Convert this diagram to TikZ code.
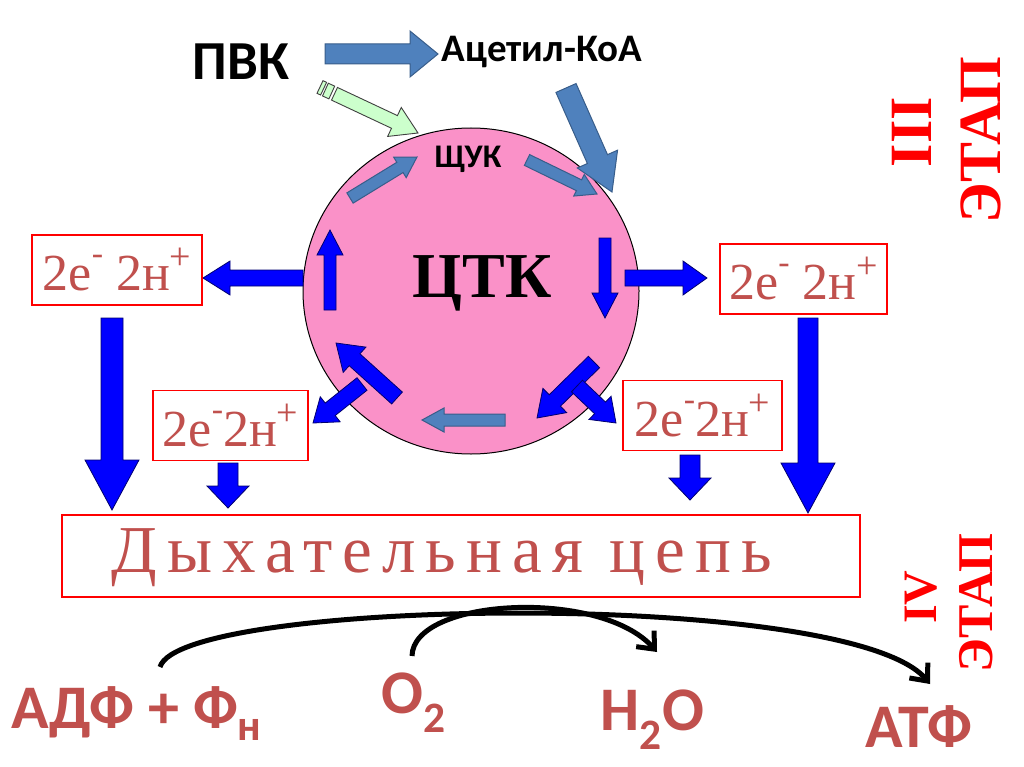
\documentclass[tikz,border=0pt]{standalone}
\usepackage{fontspec}
\setmainfont{Liberation Serif}
\newfontfamily\calibri{Carlito}
\usepackage{tikz}
\usetikzlibrary{calc,shapes.geometric,arrows.meta,positioning}

\definecolor{krebspink}{RGB}{250,145,200}
\definecolor{steel}{RGB}{79,129,189}
\definecolor{steeldark}{RGB}{56,93,138}
\definecolor{mint}{RGB}{204,255,204}
\definecolor{brick}{RGB}{192,80,77}
\definecolor{navy}{RGB}{0,0,110}

% block arrow: [style]{from}{to}{body half width}{head half width}{head length}
\newcommand{\blockarrow}[6][]{%
  \coordinate (ba-h) at ($(#3)!#6!(#2)$);
  \filldraw[#1] ($(#2)!#4!90:(#3)$) -- ($(ba-h)!#4!-90:(#2)$) -- ($(ba-h)!#5!-90:(#2)$)
    -- (#3) -- ($(ba-h)!#5!90:(#2)$) -- ($(ba-h)!#4!90:(#2)$) -- ($(#2)!#4!-90:(#3)$) -- cycle;
}
% plain bar: [style]{from}{to}{half width}
\newcommand{\blockbar}[4][]{%
  \filldraw[#1] ($(#2)!#4!90:(#3)$) -- ($(#3)!#4!-90:(#2)$) -- ($(#3)!#4!90:(#2)$) -- ($(#2)!#4!-90:(#3)$) -- cycle;
}
% electron pair text
\newcommand{\epair}[1]{2e\raisebox{26pt}{\fontsize{34}{34}\selectfont -}#12н\raisebox{21pt}{\fontsize{38}{38}\selectfont +}}

\begin{document}
\begin{tikzpicture}[x=1pt, y=-1pt,
    ebox/.style={draw=red, line width=1.5pt, fill=white, minimum height=70, inner sep=0pt, text=brick, font=\fontsize{52}{52}\selectfont},
    bluearr/.style={fill=blue, draw=navy, line width=0.8pt},
    steelarr/.style={fill=steel, draw=steeldark, line width=1pt},
    mintarr/.style={fill=mint, draw=black!75, line width=0.9pt},
    sansbold/.style={font=\calibri\bfseries\fontsize{#1}{#1}\selectfont},
    product/.style={anchor=base west, text=brick, font=\calibri\bfseries\fontsize{62}{62}\selectfont},
    stage/.style={rotate=90, text=red, font=\bfseries\fontsize{#1}{#1}\selectfont},
    curve/.style={line width=5pt, -{Straight Barb[length=14pt,width=24pt]}}]

    \useasboundingbox (0,0) rectangle (1024,767);

    % Cycle
    \node[ellipse, draw, line width=1pt, fill=krebspink, minimum width=336, minimum height=326, inner sep=0pt] (krebs) at (471,291) {};
    \node[anchor=base, font=\bfseries\fontsize{64}{64}\selectfont] (ctk) at (482,297) {ЦТК};
    \node[anchor=base, sansbold=33] (oaa) at (468,168) {ЩУК};

    % Inputs
    \node[anchor=base, sansbold=55] (pvk) at (241,80) {ПВК};
    \node[anchor=base, sansbold=39] (acoa) at (542,62) {Ацетил-КоА};

    \blockarrow[steelarr]{325,54}{438,54}{10pt}{23pt}{28pt}
    \blockbar[mintarr]{320,87}{323.6,88.7}{7pt}
    \blockbar[mintarr]{325.4,89.6}{331.8,92.5}{7pt}
    \blockarrow[mintarr]{334.5,93.8}{418,133}{7pt}{16pt}{26pt}
    \blockarrow[steelarr]{566,88}{612,192}{11pt}{22pt}{36pt}

    % Inside the cycle
    \blockarrow[steelarr]{350,198}{417,157}{6pt}{12pt}{20pt}
    \blockarrow[steelarr]{527,160}{597,194}{6pt}{12pt}{20pt}
    \blockarrow[bluearr]{605,238}{605,318}{6pt}{13pt}{25pt}
    \blockarrow[bluearr]{594,362}{537,418}{8pt}{17pt}{25pt}
    \blockarrow[steelarr]{505,420}{422,420}{6pt}{12pt}{22pt}
    \blockarrow[bluearr]{397,398}{336,343}{8pt}{17pt}{25pt}
    \blockarrow[bluearr]{330,310}{330,230}{6pt}{13pt}{25pt}

    % Out of the cycle
    \blockarrow[bluearr]{303,278}{203,278}{8pt}{17pt}{27pt}
    \blockarrow[bluearr]{625,278}{707,278}{8pt}{17pt}{24pt}
    \blockarrow[bluearr]{362,384}{313,423}{8pt}{16pt}{22pt}
    \blockarrow[bluearr]{577,386}{616,423}{8pt}{16pt}{22pt}

    % Electron pairs
    \node[ebox, minimum width=170] (boxA) at (117,270) {\epair{\ }};
    \node[ebox, minimum width=155] (boxB) at (230.5,425.5) {\epair{}};
    \node[ebox, minimum width=167] (boxC) at (803.5,279) {\epair{\ }};
    \node[ebox, minimum width=159] (boxD) at (702.5,415.5) {\epair{}};

    \blockarrow[bluearr]{112,318}{112,510}{11pt}{27pt}{50pt}
    \blockarrow[bluearr]{228,463}{228,508}{10pt}{21pt}{22pt}
    \blockarrow[bluearr]{690,455}{690,500}{10pt}{21pt}{22pt}
    \blockarrow[bluearr]{808,318}{808,513}{10pt}{27pt}{50pt}

    % Respiratory chain
    \node[draw=red, line width=1.5pt, minimum width=798, minimum height=82, inner sep=0pt] (chain) at (461,556) {};
    \node[anchor=base, text=brick, font=\fontsize{67}{67}\selectfont\addfontfeature{LetterSpace=15}] (chaintxt) at (442,572) {Дыхательная цепь};

    % Products
    \node[product] (adp) at (8,728) {АДФ + Ф\textsubscript{н}};
    \node[product] (o2) at (378,713) {O\textsubscript{2}};
    \node[product] (h2o) at (597,730) {Н\textsubscript{2}О};
    \node[product] (atp) at (862,747) {АТФ};

    \coordinate (c1s) at (160,667);
    \coordinate (c1e) at (930,684);
    \coordinate (c2s) at (412,656);
    \coordinate (c2e) at (657,652);
    \draw[curve] (c1s) .. controls (180,598) and (850,588) .. (c1e);
    \draw[curve] (c2s) .. controls (413,598) and (600,588) .. (c2e);

    % Stages
    \node[stage=60] (st3) at (981,140) {ЭТАП};
    \node[stage=60] (st3n) at (912,132) {III};
    \node[stage=50] (st4) at (976,603) {ЭТАП};
    \node[stage=48] (st4n) at (921,597) {IV};
\end{tikzpicture}
\end{document}
